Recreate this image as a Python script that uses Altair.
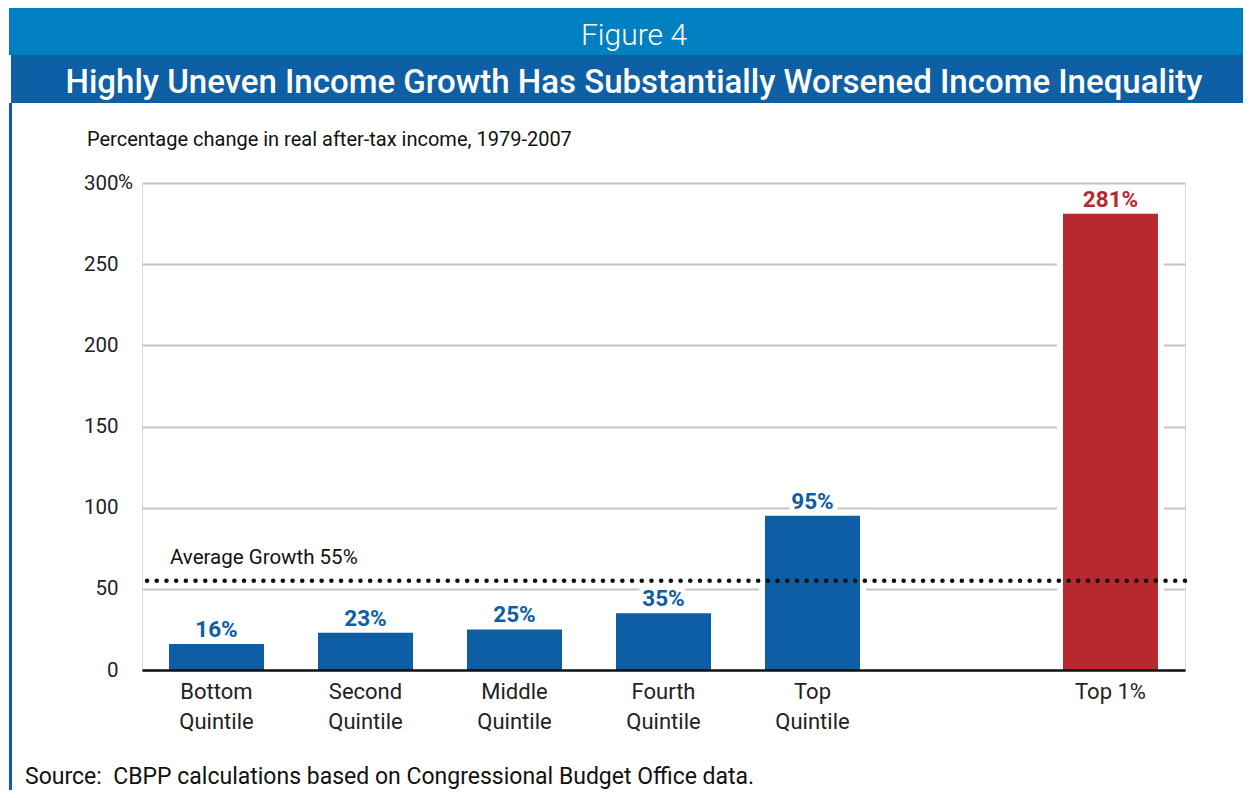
import altair as alt
import pandas as pd

# ---- data ----
categories = ["Bottom\nQuintile", "Second\nQuintile", "Middle\nQuintile",
              "Fourth\nQuintile", "Top\nQuintile", "Top 1%"]
values = [16, 23, 25, 35, 95, 281]
value_labels = ["16%", "23%", "25%", "35%", "95%", "281%"]
groups = ["quintile", "quintile", "quintile", "quintile", "quintile", "top1"]
average = 55
average_label = "Average Growth 55%"
y_ticks = [0, 50, 100, 150, 200, 250, 300]
x_domain = categories[:5] + [" "] + categories[5:]

figure_label = "Figure 4"
title_text = "Highly Uneven Income Growth Has Substantially Worsened Income Inequality"
y_title = "Percentage change in real after-tax income, 1979-2007"
source_text = "Source:\u00a0 CBPP calculations based on Congressional Budget Office data."

# ---- styles ----
BLUE = "#0D5EA5"
RED = "#B7282F"
HEAD_LIGHT = "#0080C1"
HEAD_DARK = "#0D60A6"
COND = "Roboto, sans-serif"
SANS = "Roboto, Liberation Sans, sans-serif"

W, H = 1043, 487

df = pd.DataFrame({"cat": categories, "value": values, "label": value_labels, "group": groups})
avg_df = pd.DataFrame({"avg": [average], "text": [average_label]})
one = pd.DataFrame({"a": [0]})

x_enc = alt.X("cat:N", sort=None, title=None,
              scale=alt.Scale(domain=x_domain, paddingInner=0, paddingOuter=0),
              axis=alt.Axis(labelExpr="split(datum.label, '\\n')", labelAngle=0,
                            labelFont=COND, labelFontSize=22, labelColor="#222222",
                            labelLineHeight=30, labelPadding=11, ticks=False,
                            domainColor="#111111", domainWidth=2.5, zindex=1,
                            grid=False))
y_enc = alt.Y("value:Q", title=None,
              scale=alt.Scale(domain=[0, 300], nice=False),
              axis=alt.Axis(values=y_ticks, grid=True, gridColor="#C4C4C4", gridWidth=1.8,
                            domain=False, ticks=False, labelPadding=24,
                            labelFont=COND, labelFontSize=20.5, labelColor="#222222",
                            zindex=0))
color_enc = alt.Color("group:N", legend=None,
                      scale=alt.Scale(domain=["quintile", "top1"], range=[BLUE, RED]))

base = alt.Chart(df)

bar_halo = base.mark_bar(size=95, color="white", stroke="white", strokeWidth=12).encode(
    x=x_enc, y=y_enc)
bars = base.mark_bar(size=95).encode(x=x_enc, y=y_enc, color=color_enc)

halo = base.mark_text(baseline="alphabetic", dy=-7, font=COND, fontSize=22.5,
                      fontWeight="bold", stroke="white", strokeWidth=10,
                      strokeJoin="round").encode(
    x=alt.X("cat:N", sort=None), y="value:Q", text="label:N")

labels = base.mark_text(baseline="alphabetic", dy=-7, font=COND, fontSize=22.5,
                        fontWeight="bold").encode(
    x=alt.X("cat:N", sort=None), y="value:Q", text="label:N", color=color_enc)

avg_rule = alt.Chart(avg_df).mark_rule(color="#111111", strokeWidth=4.5,
                                       strokeDash=[0.1, 9.6], strokeCap="round").encode(
    y="avg:Q")
avg_text = alt.Chart(avg_df).mark_text(align="left", baseline="alphabetic", dy=-17,
                                       font=COND, fontSize=20.5, color="#111111").encode(
    x=alt.value(28), y="avg:Q", text="text:N")

pct = alt.Chart(pd.DataFrame({"v": [300]})).mark_text(
    align="left", baseline="middle", font=COND, fontSize=20.5, color="#222222").encode(
    x=alt.value(-24), y="v:Q", text=alt.value("%"))

head1 = alt.Chart(one).mark_rect(color=HEAD_LIGHT).encode(
    x=alt.value(-133), x2=alt.value(1120), y=alt.value(-175), y2=alt.value(-128))
head2 = alt.Chart(one).mark_rect(color=HEAD_DARK).encode(
    x=alt.value(-131), x2=alt.value(1120), y=alt.value(-128), y2=alt.value(-80))
border = alt.Chart(one).mark_rect(color=HEAD_DARK).encode(
    x=alt.value(-133), x2=alt.value(-130), y=alt.value(-80), y2=alt.value(620))

fig_txt = alt.Chart(one).mark_text(align="center", baseline="alphabetic", font=SANS,
                                   fontSize=30, fontWeight=300, color="white").encode(
    x=alt.value(492), y=alt.value(-138), text=alt.value(figure_label))
title_txt = alt.Chart(one).mark_text(align="center", baseline="alphabetic", font=SANS,
                                     fontSize=33, fontWeight=500, color="white").encode(
    x=alt.value(492), y=alt.value(-90), text=alt.value(title_text))
ytitle_txt = alt.Chart(one).mark_text(align="left", baseline="alphabetic", font=COND,
                                      fontSize=20, color="#111111").encode(
    x=alt.value(-55), y=alt.value(-37), text=alt.value(y_title))
source_txt = alt.Chart(one).mark_text(align="left", baseline="alphabetic", font=SANS,
                                      fontSize=23, color="#111111").encode(
    x=alt.value(-117), y=alt.value(601), text=alt.value(source_text))

chart = alt.layer(
    bar_halo, bars, avg_rule, halo, labels, avg_text, pct,
    head1, head2, border, fig_txt, title_txt, ytitle_txt, source_txt
).properties(
    width=W, height=H,
    autosize=alt.AutoSizeParams(type="none"),
    padding={"left": 134, "top": 175, "right": 58, "bottom": 120},
).configure_view(stroke=None).configure(background="white")

chart.save("out.html", embed_options={"renderer": "svg", "actions": False})
